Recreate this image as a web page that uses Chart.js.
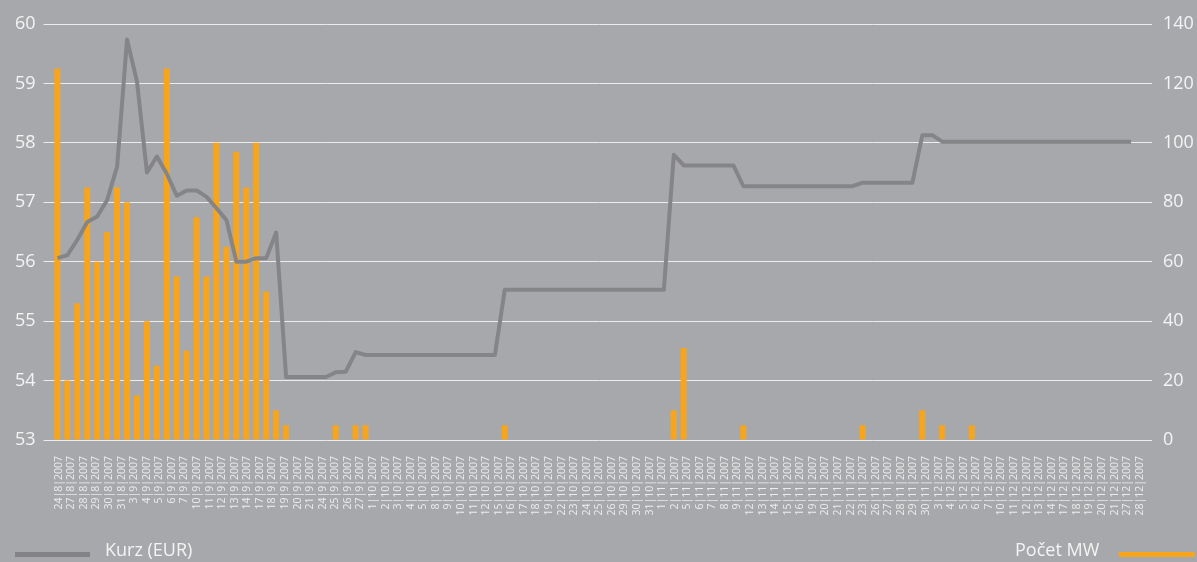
<!DOCTYPE html>
<html>
<head>
<meta charset="utf-8">
<script src="https://cdn.jsdelivr.net/npm/chart.js"></script>
<style>
  html, body { margin: 0; padding: 0; background: #a7a8ab; }
  #wrap { position: relative; width: 1197px; height: 562px; overflow: hidden; background: #a7a8ab; font-family: "Open Sans", "Noto Sans", sans-serif; }
  #c { position: absolute; left: 0; top: 0; }
  .lg-text { position: absolute; color: #f4f4f4; font-size: 18px; line-height: 1; white-space: nowrap; }
  .lg-line { position: absolute; height: 5px; }
</style>
</head>
<body>
<div id="wrap">
  <canvas id="c" width="1197" height="562"></canvas>
  <div class="lg-line" style="left:15px; top:552px; width:75px; background:#838385;"></div>
  <div class="lg-text" id="lgKurz" style="left:105px; top:540px;"></div>
  <div class="lg-text" id="lgMW" style="left:1015px; top:540px;"></div>
  <div class="lg-line" style="left:1119px; top:552px; width:76px; background:#f8a51b;"></div>
</div>
<script>
// Visible date labels (trading days)
const dateLabels = [
  "24|8|2007","27|8|2007","28|8|2007","29|8|2007","30|8|2007","31|8|2007",
  "3|9|2007","4|9|2007","5|9|2007","6|9|2007","7|9|2007","10|9|2007","11|9|2007","12|9|2007","13|9|2007","14|9|2007",
  "17|9|2007","18|9|2007","19|9|2007","20|9|2007","21|9|2007","24|9|2007","25|9|2007","26|9|2007","27|9|2007",
  "1|10|2007","2|10|2007","3|10|2007","4|10|2007","5|10|2007","8|10|2007","9|10|2007","10|10|2007","11|10|2007","12|10|2007",
  "15|10|2007","16|10|2007","17|10|2007","18|10|2007","19|10|2007","22|10|2007","23|10|2007","24|10|2007","25|10|2007","26|10|2007",
  "29|10|2007","30|10|2007","31|10|2007",
  "1|11|2007","2|11|2007","5|11|2007","6|11|2007","7|11|2007","8|11|2007","9|11|2007","12|11|2007","13|11|2007","14|11|2007",
  "15|11|2007","16|11|2007","19|11|2007","20|11|2007","21|11|2007","22|11|2007","23|11|2007","26|11|2007","27|11|2007","28|11|2007",
  "29|11|2007","30|11|2007",
  "3|12|2007","4|12|2007","5|12|2007","6|12|2007","7|12|2007","10|12|2007","11|12|2007","12|12|2007","13|12|2007","14|12|2007",
  "17|12|2007","18|12|2007","19|12|2007","20|12|2007","21|12|2007","27|12|2007","28|12|2007"
];

// Price series (EUR), left axis
const kurzEUR = [
  56.06, 56.11, 56.37, 56.67, 56.76, 57.04, 57.60, 59.74, 59.03, 57.50,
  57.77, 57.48, 57.11, 57.20, 57.20, 57.09, 56.90, 56.70, 56.00, 56.00,
  56.06, 56.06, 56.49, 54.06, 54.06, 54.06, 54.06, 54.06, 54.14, 54.15,
  54.48, 54.43, 54.43, 54.43, 54.43, 54.43, 54.43, 54.43, 54.43, 54.43,
  54.43, 54.43, 54.43, 54.43, 54.43, 55.53, 55.53, 55.53, 55.53, 55.53,
  55.53, 55.53, 55.53, 55.53, 55.53, 55.53, 55.53, 55.53, 55.53, 55.53,
  55.53, 55.53, 57.80, 57.62, 57.62, 57.62, 57.62, 57.62, 57.62, 57.27,
  57.27, 57.27, 57.27, 57.27, 57.27, 57.27, 57.27, 57.27, 57.27, 57.27,
  57.27, 57.33, 57.33, 57.33, 57.33, 57.33, 57.33, 58.13, 58.13, 58.02,
  58.02, 58.02, 58.02, 58.02, 58.02, 58.02, 58.02, 58.02, 58.02, 58.02,
  58.02, 58.02, 58.02, 58.02, 58.02, 58.02, 58.02, 58.02, 58.02
];

// Volume series (MW), right axis
const pocetMW = [
  125, 20, 46, 85, 60, 70, 85, 80, 15, 40,
  25, 125, 55, 30, 75, 55, 100, 65, 97, 85,
  100, 50, 10, 5, 0, 0, 0, 0, 5, 0,
  5, 5, 0, 0, 0, 0, 0, 0, 0, 0,
  0, 0, 0, 0, 0, 5, 0, 0, 0, 0,
  0, 0, 0, 0, 0, 0, 0, 0, 0, 0,
  0, 0, 10, 31, 0, 0, 0, 0, 0, 5,
  0, 0, 0, 0, 0, 0, 0, 0, 0, 0,
  0, 5, 0, 0, 0, 0, 0, 10, 0, 5,
  0, 0, 5, 0, 0, 0, 0, 0, 0, 0,
  0, 0, 0, 0, 0, 0, 0, 0, 0
];

// Data point slots on the (hidden) data axis
const pointSlots = Array.from({ length: 110 }, (_, i) => "p" + (i + 1));

const seriesNames = ["Kurz (EUR)", "Počet MW"];
document.getElementById("lgKurz").textContent = seriesNames[0];
document.getElementById("lgMW").textContent = seriesNames[1];

const gridColor = "#ececec";
const textColor = "#f4f4f4";
const fontFamily = '"Open Sans", "Noto Sans", sans-serif';

new Chart(document.getElementById("c"), {
  data: {
    labels: pointSlots,
    datasets: [
      {
        type: "line",
        label: seriesNames[0],
        data: kurzEUR,
        xAxisID: "x",
        yAxisID: "y",
        borderColor: "#858587",
        borderWidth: 4,
        pointRadius: 0,
        tension: 0,
        borderJoinStyle: "round",
        fill: false,
        order: 0
      },
      {
        type: "bar",
        label: seriesNames[1],
        data: pocetMW,
        xAxisID: "x",
        yAxisID: "y1",
        backgroundColor: "#f8a51b",
        borderWidth: 0,
        categoryPercentage: 0.6,
        barPercentage: 1.0,
        order: 1
      }
    ]
  },
  options: {
    responsive: false,
    animation: false,
    devicePixelRatio: 1,
    layout: { padding: { top: 24, left: 0, right: 0, bottom: 0 } },
    plugins: { legend: { display: false }, tooltip: { enabled: false } },
    scales: {
      x: {
        type: "category",
        display: false,
        offset: true
      },
      xLabels: {
        type: "category",
        position: "bottom",
        labels: dateLabels,
        offset: true,
        grid: { display: false, drawTicks: false },
        border: { display: false },
        ticks: {
          autoSkip: false,
          minRotation: 90,
          maxRotation: 90,
          padding: 16,
          color: "#ececec",
          font: { family: fontFamily, size: 10.5 }
        },
        afterFit: (s) => { s.height = 122; }
      },
      y: {
        position: "left",
        min: 53,
        max: 60,
        ticks: {
          stepSize: 1,
          padding: 8,
          color: textColor,
          font: { family: fontFamily, size: 18 }
        },
        grid: { color: gridColor, lineWidth: 1, tickLength: 9, drawTicks: true },
        border: { display: false },
        afterFit: (s) => { s.width = 52.5; }
      },
      y1: {
        position: "right",
        min: 0,
        max: 140,
        ticks: {
          stepSize: 20,
          padding: 11,
          color: textColor,
          font: { family: fontFamily, size: 18 }
        },
        grid: { drawOnChartArea: false, color: gridColor, lineWidth: 1, tickLength: 6, drawTicks: true },
        border: { display: false },
        afterFit: (s) => { s.width = 51; }
      }
    }
  }
});
</script>
</body>
</html>
